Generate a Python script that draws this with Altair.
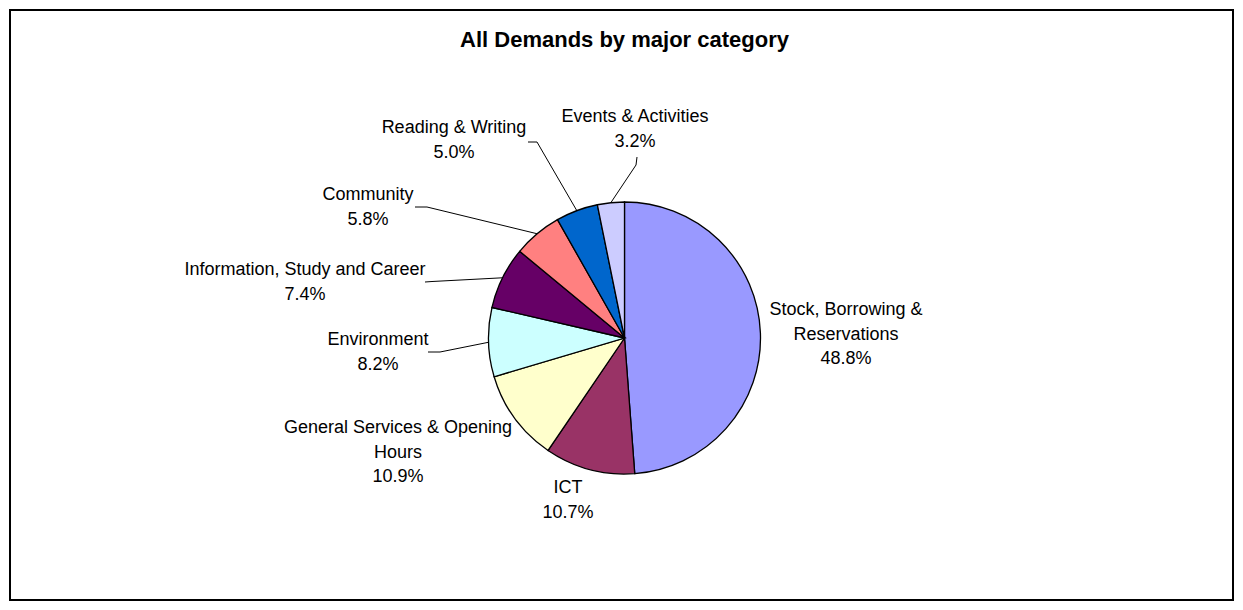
import math
import altair as alt
import pandas as pd

# ---- data ----
categories = [
    "Stock, Borrowing & Reservations",
    "ICT",
    "General Services & Opening Hours",
    "Environment",
    "Information, Study and Career",
    "Community",
    "Reading & Writing",
    "Events & Activities",
]
shares = [48.8, 10.7, 10.9, 8.2, 7.4, 5.8, 5.0, 3.2]
label_text = [
    "Stock, Borrowing &\nReservations",
    "ICT",
    "General Services & Opening\nHours",
    "Environment",
    "Information, Study and Career",
    "Community",
    "Reading & Writing",
    "Events & Activities",
]
colors = ["#9999FF", "#993366", "#FFFFCC", "#CCFFFF", "#660066", "#FF8080", "#0066CC", "#CCCCFF"]
title_text = "All Demands by major category"

# ---- layout (pixels) ----
W, H = 1223, 590
CX, CY, R = 614.5, 328, 136
FONT = "Liberation Sans"
# first-line centre of each label, relative to the pie centre
label_offsets = [(221.5, -28), (-56.5, 150), (-226.5, 90), (-246.5, 2),
                 (-319.5, -68), (-256.5, -143), (-170.5, -210), (10.5, -221)]
# leader elbow and end, relative to the pie centre (None = no leader)
leaders = [None, None, None,
           [(-184.5, 14), (-196.5, 14)],
           [(-192.5, -56.5), (-199.5, -56)],
           [(-197.5, -131), (-209.5, -131)],
           [(-87.5, -196), (-96.5, -196)],
           [(11.5, -173), (12.5, -181)]]

df = pd.DataFrame({"category": categories, "share": shares, "idx": range(len(categories))})

lab_rows, lead_rows = [], []
cum = 0.0
for i, (c, s) in enumerate(zip(categories, shares)):
    mid = (cum + s / 2) / 100 * 2 * math.pi
    cum += s
    dx, dy = label_offsets[i]
    lab_rows.append({"category": c, "text": f"{label_text[i]}\n{s:.1f}%",
                     "px": CX + dx, "py": CY + dy})
    if leaders[i]:
        pts = [(CX + R * math.sin(mid), CY - R * math.cos(mid))] + \
              [(CX + ex, CY + ey) for ex, ey in leaders[i]]
        for k, (px, py) in enumerate(pts):
            lead_rows.append({"category": c, "step": k, "px": px, "py": py})

lab_df = pd.DataFrame(lab_rows)
lead_df = pd.DataFrame(lead_rows)
title_df = pd.DataFrame({"text": [title_text], "px": [CX], "py": [30]})

xs = alt.Scale(domain=[0, W], range=[0, W], nice=False, zero=False)
ys = alt.Scale(domain=[0, H], range=[0, H], nice=False, zero=False)

pie = alt.Chart(df).mark_arc(radius=R, stroke="black", strokeWidth=1.3).encode(
    theta=alt.Theta("share:Q", stack=True),
    color=alt.Color("category:N", scale=alt.Scale(domain=categories, range=colors), legend=None),
    order=alt.Order("idx:Q"),
    x=alt.value(CX),
    y=alt.value(CY),
)

lines = alt.Chart(lead_df).mark_line(color="black", strokeWidth=1).encode(
    x=alt.X("px:Q", scale=xs, axis=None),
    y=alt.Y("py:Q", scale=ys, axis=None),
    detail="category:N",
    order="step:Q",
)

labels = alt.Chart(lab_df).mark_text(
    font=FONT, fontSize=18, lineBreak="\n", lineHeight=24.5,
    align="center", baseline="middle", color="black"
).encode(
    x=alt.X("px:Q", scale=xs, axis=None),
    y=alt.Y("py:Q", scale=ys, axis=None),
    text="text:N",
)

title = alt.Chart(title_df).mark_text(
    font=FONT, fontSize=22, fontWeight="bold", align="center", baseline="middle", color="black"
).encode(
    x=alt.X("px:Q", scale=xs, axis=None),
    y=alt.Y("py:Q", scale=ys, axis=None),
    text="text:N",
)

chart = alt.layer(pie, lines, labels, title).properties(
    width=W, height=H,
    autosize=alt.AutoSizeParams(type="none"),
    padding={"left": 2, "top": 2, "right": 2, "bottom": 2},
    background="white",
).configure_view(stroke="black", strokeWidth=2)

chart.save("out.html", embed_options={"renderer": "svg", "actions": False})
